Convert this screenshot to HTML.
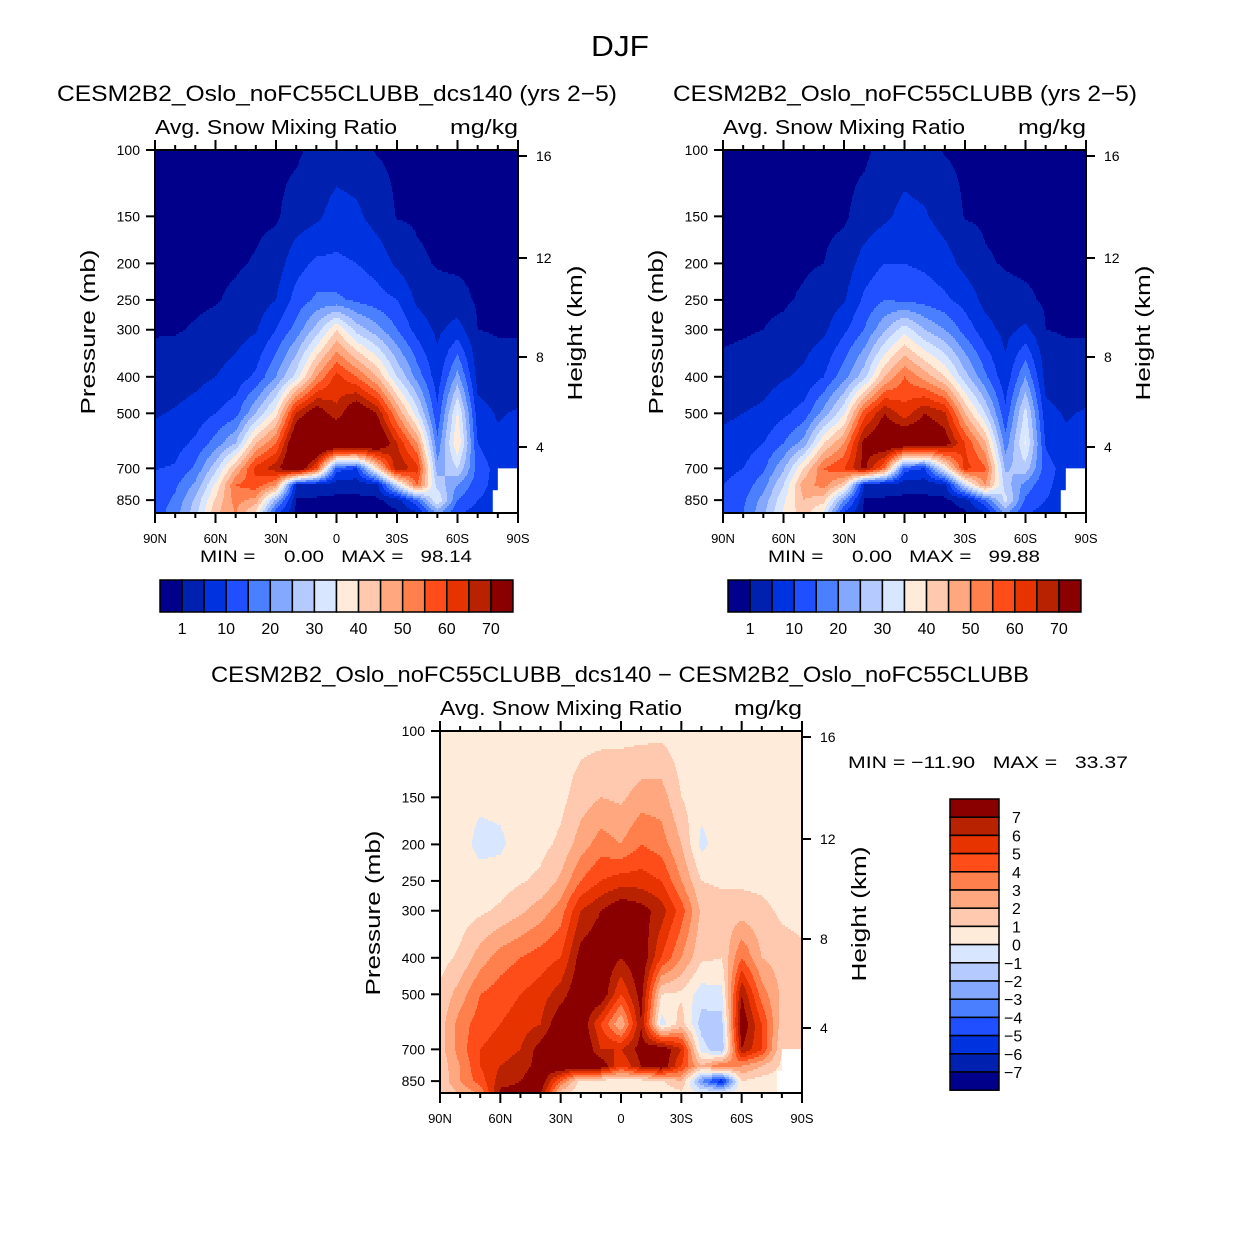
<!DOCTYPE html>
<html><head><meta charset="utf-8"><style>
html,body{margin:0;padding:0;background:#fff;}
svg{display:block;font-family:"Liberation Sans",sans-serif;}
.pre{white-space:pre;}
</style></head><body>
<svg id="fig" width="1242" height="1244" viewBox="0 0 1242 1244" xmlns="http://www.w3.org/2000/svg">
<text x="620" y="56" font-size="29" text-anchor="middle" textLength="58" lengthAdjust="spacingAndGlyphs">DJF</text>
</svg>
<script>
// ---- data ----
const lats = [90,80,70,60,50,40,30,20,10,0,-10,-20,-30,-40,-50,-60,-70,-80,-90];
const pressures = [100,150,200,250,300,400,500,600,700,775,850,925];
const snowLevels = [1,5,10,15,20,25,30,35,40,45,50,55,60,65,70];
const snowLevelLabels = ["1","10","20","30","40","50","60","70"];
const diffLevels = [-7,-6,-5,-4,-3,-2,-1,0,1,2,3,4,5,6,7];
const diffLevelLabels = ["7","6","5","4","3","2","1","0","\u22121","\u22122","\u22123","\u22124","\u22125","\u22126","\u22127"];
const pressureTicks = [100,150,200,250,300,400,500,700,850];
const heightTicks = [16,12,8,4];
const latTickLabels = ["90N","60N","30N","0","30S","60S","90S"];
// one row per latitude (90N..90S), values at pressures 100..925 mb
const snowDcs140 = [
[0.2,0.2,0.3,0.4,0.8,2,4.5,7,9.8,11,12,12],
[0.2,0.3,0.4,0.5,0.8,2.5,5.5,8,10.5,14,16,18],
[0.2,0.3,0.4,0.6,1.2,3.5,7,11,16,21,26,28],
[0.2,0.3,0.5,0.8,1.8,5,10,17,28,36,41,44],
[0.2,0.4,0.7,1.5,3,7,13,25,45,55,52,50],
[0.3,0.5,1.2,2.5,4.5,11,25,45,62,58,48,38],
[0.3,0.6,2.5,5,10,20,38,55,68,50,24,10],
[0.4,2.5,8,12,17,32,66,80,80,5,0.5,0.3],
[2,4,11,16,27,50,75,85,60,3,0.5,0.3],
[2.5,7,11,16,40,62,66,85,12,2,0.4,0.3],
[2,6,10,14,28,55,78,85,10,2,0.4,0.3],
[0.8,3,8,12,22,45,70,80,40,3,0.5,0.3],
[0.4,0.8,4,10,15,30,50,65,70,30,2,0.5],
[0.3,0.6,1.5,4,8,18,32,50,62,55,15,3],
[0.2,0.4,0.8,2,4,7,11,16,22,28,35,20],
[0.2,0.3,0.5,2,7,22,36,40,30,20,15,10],
[0.2,0.3,0.4,0.6,1,3,7,10,13,12,10,8],
[0.2,0.3,0.4,0.5,0.8,2,4.5,6,8,8,8,8],
[0.2,0.2,0.3,0.4,0.8,2,5.5,7,8,8,8,8]];
const snowCtrl = [
[0.2,0.2,0.3,0.4,0.5,1.8,4,6.5,8.5,10,11,11],
[0.2,0.3,0.3,0.5,0.7,2.2,5,7.5,10,12,14,15],
[0.2,0.3,0.4,0.6,1,3,6,10,14,18,22,24],
[0.2,0.3,0.5,0.7,1.5,4.5,9,15,24,30,34,36],
[0.2,0.4,0.7,1.3,2.5,6,12,22,40,48,45,42],
[0.3,0.5,1,2.2,4,10,22,40,55,52,42,33],
[0.3,0.6,2.2,4.5,9,18,34,50,60,42,20,8],
[0.4,2.2,7,11,15,28,58,72,72,5,0.5,0.3],
[2,4,10,15,24,45,70,78,55,3,0.5,0.3],
[2.5,6.5,10,14,33,55,62,80,12,2,0.4,0.3],
[2,5.5,9,13,25,48,70,78,10,2,0.4,0.3],
[0.8,3,7,11,20,40,66,74,35,3,0.5,0.3],
[0.4,0.8,3.5,8,13,27,45,60,62,30,2,0.5],
[0.3,0.6,1.3,3.5,7,16,30,46,56,50,15,3],
[0.2,0.4,0.8,1.8,3.5,6.5,11,17,24,28,32,20],
[0.2,0.3,0.5,1.5,6,20,32,36,28,18,14,10],
[0.2,0.3,0.4,0.6,1,3,6.5,9.5,12,11,10,8],
[0.2,0.3,0.4,0.5,0.8,2,4.5,6,8,8,8,8],
[0.2,0.2,0.3,0.4,0.8,2,5.5,7,8,8,8,8]];
const snowDiff = [
[0.3,0.3,0.3,0.3,0.4,0.6,1.2,1.5,1.5,1.3,1.2,1],
[0.3,0.3,0.4,0.4,0.5,1.2,2.5,3.5,3.5,3,3,2],
[0.3,0.2,-0.3,0.4,0.8,2.5,4,4.5,5,5,4.5,3],
[0.3,0.3,-0.2,0.5,1.2,3.5,4.5,5,5.5,6,6.5,7.5],
[0.3,0.4,0.5,0.9,1.8,4,5,5.5,6,6.5,7,7.5],
[0.4,0.5,0.7,1.2,2.5,4.5,5.5,6,7.5,7.5,8,7],
[0.5,0.7,1.2,2.2,3.5,5,6.5,8,8.5,8.5,4,1],
[0.6,1.5,2.5,4,6,7.5,8,8,8.5,8,0.5,0.3],
[0.6,2,3.5,5,7,8,8,5,6,8,0.5,0.3],
[0.7,1.8,3,5.5,8,7,5,2,6,5,0.5,0.3],
[0.6,2.5,4,5.5,7.5,8,7.5,7,7.5,7,0.5,0.3],
[0.7,2.5,3.5,5,6.5,5,1,-0.5,8,8,0.8,0.3],
[0.4,1,2,3,4.5,3,0.8,1.5,6,5,2,0.5],
[0.3,0.4,-0.3,1,1.8,1.2,-0.5,-1.5,-0.5,2,-3,0.5],
[0.3,0.5,0.6,0.8,1.5,1,-0.3,-1.5,-2,4,-6,1],
[0.3,0.4,0.5,0.8,1.5,4,7,8,7,3,1,0.5],
[0.3,0.4,0.5,0.7,1.3,2,3.5,5,5,2,0.5,0.3],
[0.3,0.3,0.4,0.5,0.8,1.5,1.8,1.5,1,0.8,0.5,0.5],
[0.3,0.3,0.3,0.4,0.7,1.2,1.5,1.2,1,0.8,0.5,0.5]];
// missing data (below ground) boxes: [lat from, lat to, pressure top]
const missingBoxes = [[-80,-90,700],[-77.5,-80,800]];
const snowColors = ["#00008a","#0021b0","#0033e0","#1f4fff","#4a7fff","#85a8ff","#b5caff","#d8e7ff","#ffebd9","#ffc9b0","#ffa77f","#ff7f4d","#ff4d1a","#e63300","#b82200","#8a0000"];

const NS = "http://www.w3.org/2000/svg";
const svg = document.getElementById('fig');
function mk(tag, attrs, parent){const e=document.createElementNS(NS,tag);for(const k in attrs)e.setAttribute(k,attrs[k]);(parent||svg).appendChild(e);return e;}
function txt(s, attrs, name, parent){const e=mk('text',attrs,parent);e.textContent=s;
  
  
  return e;}

function sample(grid, lat, p){
  let fi=(90-lat)/10; fi=Math.max(0,Math.min(18,fi));
  const i0=Math.min(17,Math.floor(fi)), ti=fi-i0;
  let j=0; while(j<pressures.length-2 && p>pressures[j+1]) j++;
  let tj=Math.log(p/pressures[j])/Math.log(pressures[j+1]/pressures[j]); tj=Math.max(0,Math.min(1,tj));
  const a=grid[i0][j]*(1-tj)+grid[i0][j+1]*tj;
  const b=grid[i0+1][j]*(1-tj)+grid[i0+1][j+1]*tj;
  return a*(1-ti)+b*ti;
}
function levelIndex(v, levels){let k=0;while(k<levels.length && v>=levels[k])k++;return k;}

function panel(o){
  const g=mk('g',{});
  
  
  const L=o.x, T=o.y, W=o.w, H=o.h, K=163.6;
  const xOf=lat=>L+(90-lat)/180*W;
  const yOf=p=>T+K*Math.log(p/100);
  const pOf=y=>100*Math.exp((y-T)/K);
  const fill=mk('g',{},g);
  
  
  const step=2;
  for(let y=T;y<T+H;y+=step){
    const p=pOf(y+step/2);
    let runStart=0, runC=-1;
    for(let x=0;x<=W;x++){
      let c=-2;
      if(x<W){const lat=90-(x+0.5)/W*180; c=levelIndex(sample(o.grid,lat,p),o.levels);}
      if(c!==runC){
        if(runC>=0){const r=mk('rect',{x:L+runStart,y:y,width:x-runStart,height:Math.min(step,T+H-y)+0.3,fill:snowColors[runC]},fill);
          
          }
        runStart=x; runC=c;
      }
    }
  }
  missingBoxes.forEach(b=>{const x1=xOf(b[0]),x2=xOf(b[1]);
    const r=mk('rect',{x:x1,y:yOf(b[2]),width:x2-x1+1,height:T+H-yOf(b[2]),fill:'#fff'},g);
    
    });
  mk('rect',{x:L,y:T,width:W,height:H,fill:'none',stroke:'#000','stroke-width':2},g);
  for(let lat=90;lat>=-90;lat-=10){const x=xOf(lat), major=lat%30===0, len=major?10:5;
    mk('line',{x1:x,x2:x,y1:T,y2:T-len,stroke:'#000','stroke-width':2},g);
    mk('line',{x1:x,x2:x,y1:T+H,y2:T+H+len,stroke:'#000','stroke-width':2},g);}
  latTickLabels.forEach((s,i)=>txt(s,{x:xOf(90-30*i),y:T+H+30,'font-size':13,'text-anchor':'middle'},'x-tick-label',g));
  pressureTicks.forEach(p=>{const y=yOf(p);
    mk('line',{x1:L,x2:L-9,y1:y,y2:y,stroke:'#000','stroke-width':2},g);
    txt(String(p),{x:L-15,y:y+5,'font-size':14,'text-anchor':'end'},'y-tick-label',g);});
  heightTicks.forEach((h,i)=>{const y=o.hy[i];
    mk('line',{x1:L+W,x2:L+W+9,y1:y,y2:y,stroke:'#000','stroke-width':2},g);
    txt(String(h),{x:L+W+18,y:y+5,'font-size':14},'right-tick-label',g);});
  txt('Pressure (mb)',{x:0,y:0,'font-size':20,'text-anchor':'middle',transform:`translate(${L-60},${T+182}) rotate(-90)`,textLength:165,lengthAdjust:'spacingAndGlyphs'},'y-axis-title',g);
  txt('Height (km)',{x:0,y:0,'font-size':20,'text-anchor':'middle',transform:`translate(${L+W+64},${T+183}) rotate(-90)`,textLength:135,lengthAdjust:'spacingAndGlyphs'},'right-axis-title',g);
  txt('Avg. Snow Mixing Ratio',{x:L,y:T-16,'font-size':20,textLength:242,lengthAdjust:'spacingAndGlyphs'},'subtitle',g);
  txt('mg/kg',{x:L+W,y:T-16,'font-size':20,'text-anchor':'end',textLength:68,lengthAdjust:'spacingAndGlyphs'},'units-label',g);
  txt(o.title,{x:o.tx,y:o.ty,'font-size':22,'text-anchor':'middle',textLength:o.tw,lengthAdjust:'spacingAndGlyphs'},'panel-title',g);
  return {g,xOf,yOf};
}
function hbar(x,y,labels,name){
  const g=mk('g',{});
  
  
  const bw=22.06;
  snowColors.forEach((c,i)=>{const r=mk('rect',{x:x+i*bw,y:y,width:bw,height:32,fill:c,stroke:'#000','stroke-width':1.5},g);
    
    });
  labels.forEach((s,i)=>txt(s,{x:x+bw*(1+2*i),y:y+54,'font-size':16,'text-anchor':'middle'},'colorbar-label',g));
}

panel({name:'panel-dcs140',x:155,y:150,w:363,h:363,grid:snowDcs140,levels:snowLevels,hy:[156,258,357,447],
  title:'CESM2B2_Oslo_noFC55CLUBB_dcs140 (yrs 2\u22125)',tx:337,ty:101,tw:560});
txt('MIN =     0.00   MAX =   98.14',{x:200,y:562,'font-size':17,'class':'pre',textLength:272,lengthAdjust:'spacingAndGlyphs'},'min-max-label');
hbar(160,580,snowLevelLabels,'colorbar-dcs140');

panel({name:'panel-ctrl',x:723,y:150,w:363,h:363,grid:snowCtrl,levels:snowLevels,hy:[156,258,357,447],
  title:'CESM2B2_Oslo_noFC55CLUBB (yrs 2\u22125)',tx:905,ty:101,tw:464});
txt('MIN =     0.00   MAX =   99.88',{x:768,y:562,'font-size':17,'class':'pre',textLength:272,lengthAdjust:'spacingAndGlyphs'},'min-max-label');
hbar(728,580,snowLevelLabels,'colorbar-ctrl');

panel({name:'panel-diff',x:440,y:731,w:362,h:362,grid:snowDiff,levels:diffLevels,hy:[737,839,939,1028],
  title:'CESM2B2_Oslo_noFC55CLUBB_dcs140 \u2212 CESM2B2_Oslo_noFC55CLUBB',tx:620,ty:682,tw:818});
txt('MIN = \u221211.90   MAX =   33.37',{x:848,y:768,'font-size':17,'class':'pre',textLength:280,lengthAdjust:'spacingAndGlyphs'},'min-max-label');
(function(){
  const g=mk('g',{});
  
  
  const bh=18.2, x=950, y=799;
  for(let i=0;i<16;i++){const r=mk('rect',{x:x,y:y+i*bh,width:49,height:bh,fill:snowColors[15-i],stroke:'#000','stroke-width':1.5},g);
    
    }
  diffLevelLabels.forEach((s,i)=>txt(s,{x:s.length>1?1004:1012,y:y+bh*(i+1)+6,'font-size':16},'colorbar-label',g));
})();
</script>
</body></html>
